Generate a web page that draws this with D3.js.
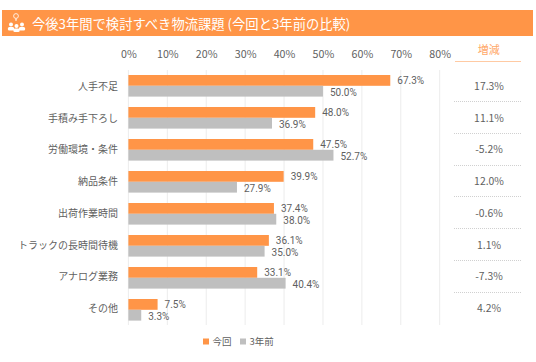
<!DOCTYPE html>
<html>
<head>
<meta charset="utf-8">
<script src="https://cdn.jsdelivr.net/npm/d3@7"></script>
<style>
html, body { margin: 0; padding: 0; background: #fff; }
text { font-family: "Noto Sans CJK JP", "Noto Sans", sans-serif; }
</style>
</head>
<body>
<div id="chart"></div>
<script>
const titleText = '今後3年間で検討すべき物流課題 (今回と3年前の比較)';
const categories = ['人手不足', '手積み手下ろし', '労働環境・条件', '納品条件', '出荷作業時間', 'トラックの長時間待機', 'アナログ業務', 'その他'];
const seriesNames = ['今回', '3年前'];
const currentValues = [67.3, 48.0, 47.5, 39.9, 37.4, 36.1, 33.1, 7.5];
const pastValues = [50.0, 36.9, 52.7, 27.9, 38.0, 35.0, 40.4, 3.3];
const changeLabels = ['17.3%', '11.1%', '-5.2%', '12.0%', '-0.6%', '1.1%', '-7.3%', '4.2%'];
const xTicks = [0, 10, 20, 30, 40, 50, 60, 70, 80];

const width = 536, height = 362;
const ORANGE = '#ff9547', GREY = '#bfbfbf', TEXT = '#5f5f5f';

const svg = d3.select('#chart').append('svg')
  .attr('width', width).attr('height', height)
  .style('display', 'block');

// title band
svg.append('rect')
  .attr('x', 2).attr('y', 10).attr('width', 531).attr('height', 26)
  .attr('fill', ORANGE);
svg.append('text')
  .attr('x', 32).attr('y', 23).attr('dominant-baseline', 'central')
  .attr('fill', '#fff').attr('font-size', 13.3)
  .text(titleText);

// people + lightbulb icon
const icon = svg.append('g').attr('fill', '#fff');
[[11, 24.5], [22, 24.5], [16.5, 26]].forEach(([cx, cy]) => {
  icon.append('circle').attr('cx', cx).attr('cy', cy).attr('r', 2);
  icon.append('rect').attr('x', cx - 3.2).attr('y', cy + 2.6).attr('width', 6.4).attr('height', 3.4).attr('rx', 1.6);
});
icon.append('circle').attr('cx', 16).attr('cy', 16).attr('r', 2.4)
  .attr('fill', 'none').attr('stroke', '#fff').attr('stroke-width', 0.8);
icon.append('rect').attr('x', 15.4).attr('y', 18.6).attr('width', 1.2).attr('height', 2.2);

// scales
const x = d3.scaleLinear().domain([0, 80]).range([128.4, 439.7]);
const y = d3.scaleBand().domain(categories).range([70, 326]);
const rowY = d3.scalePoint().domain(categories).range([85.5, 307.5]);
const barH = 10.8;

// gridlines
svg.append('g').selectAll('line').data(xTicks).join('line')
  .attr('x1', d => x(d)).attr('x2', d => x(d))
  .attr('y1', 70).attr('y2', 325)
  .attr('stroke', '#ececec').attr('stroke-width', 1);

// top axis labels
const axis = svg.append('g')
  .attr('transform', 'translate(0,58)')
  .call(d3.axisTop(x).tickValues(xTicks).tickFormat(d => d + '%').tickSize(0).tickPadding(0));
axis.select('.domain').remove();
axis.selectAll('text')
  .attr('fill', TEXT).attr('font-size', 10.7)
  .style('font-family', '"Noto Sans CJK JP", sans-serif');

// category labels
svg.append('g').selectAll('text').data(categories).join('text')
  .attr('x', 118).attr('y', d => rowY(d))
  .attr('text-anchor', 'end').attr('dominant-baseline', 'central')
  .attr('fill', TEXT).attr('font-size', 10)
  .text(d => d);

// bars and value labels
[[currentValues, ORANGE, 0], [pastValues, GREY, 1]].forEach(([vals, color, s]) => {
  const top = (d, i) => y(categories[i]) + 5 + s * barH;
  svg.append('g').selectAll('rect').data(vals).join('rect')
    .attr('x', x(0)).attr('y', top)
    .attr('width', d => x(d) - x(0)).attr('height', barH)
    .attr('fill', color);
  svg.append('g').selectAll('text').data(vals).join('text')
    .attr('x', d => x(d) + 7)
    .attr('y', (d, i) => top(d, i) + barH / 2 + s)
    .attr('dominant-baseline', 'central')
    .attr('fill', TEXT).attr('font-size', 10)
    .style('font-family', 'Roboto, sans-serif')
    .text(d => d.toFixed(1) + '%');
});

// change column
svg.append('text')
  .attr('x', 488.7).attr('y', 49).attr('text-anchor', 'middle')
  .attr('dominant-baseline', 'central')
  .attr('fill', '#ffa869').attr('font-size', 11)
  .text('増減');
svg.append('line')
  .attr('x1', 455).attr('x2', 521).attr('y1', 61.5).attr('y2', 61.5)
  .attr('stroke', '#ffcaa3').attr('stroke-width', 1);
svg.append('g').selectAll('text').data(changeLabels).join('text')
  .attr('x', 489).attr('y', (d, i) => rowY(categories[i]))
  .attr('text-anchor', 'middle').attr('dominant-baseline', 'central')
  .attr('fill', TEXT).attr('font-size', 10.4)
  .text(d => d);
svg.append('g').selectAll('line').data(categories.slice(1)).join('line')
  .attr('x1', 454).attr('x2', 522)
  .attr('y1', d => Math.round(rowY(d) - 16) + 0.5).attr('y2', d => Math.round(rowY(d) - 16) + 0.5)
  .attr('stroke', '#d0d0d0').attr('stroke-width', 1).attr('stroke-dasharray', '1,1');

// legend
const legendX = [203, 240];
seriesNames.forEach((name, i) => {
  svg.append('rect')
    .attr('x', legendX[i]).attr('y', 338.5).attr('width', 6).attr('height', 6)
    .attr('fill', i === 0 ? ORANGE : GREY);
  svg.append('text')
    .attr('x', legendX[i] + 9.5).attr('y', 341).attr('dominant-baseline', 'central')
    .attr('fill', TEXT).attr('font-size', 9.5)
    .text(name);
});
</script>
</body>
</html>
